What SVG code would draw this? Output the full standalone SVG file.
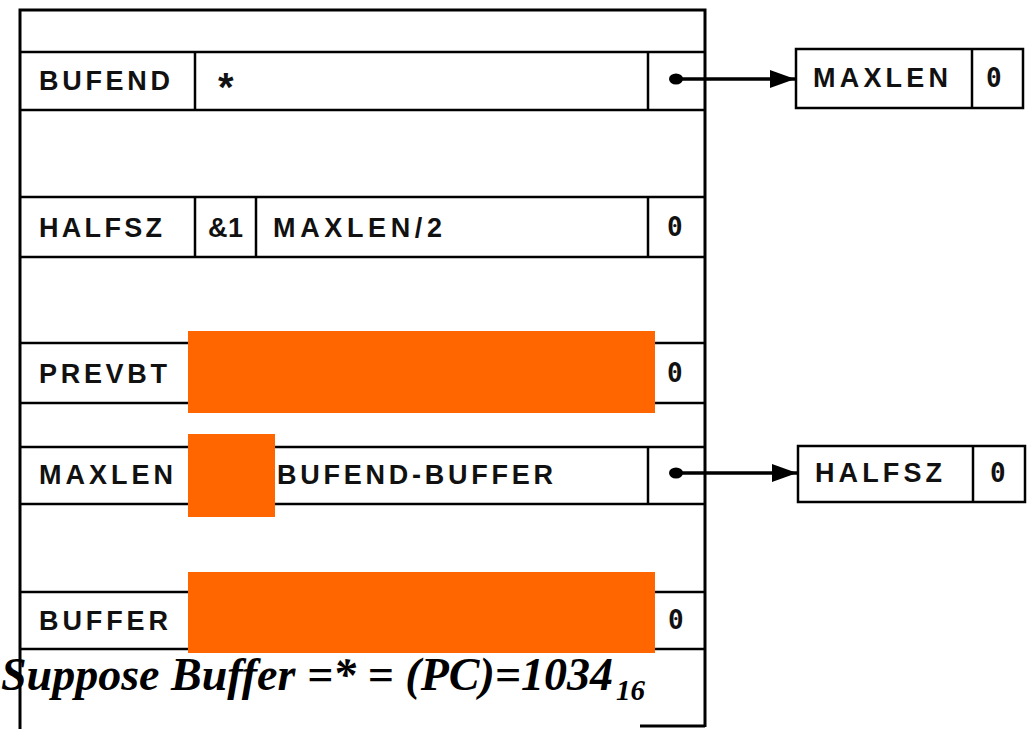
<svg xmlns="http://www.w3.org/2000/svg" width="1029" height="729" viewBox="0 0 1029 729">
<defs>
<style>
.ln{stroke:#000;stroke-width:2.5;fill:none}
.fr{stroke:#000;stroke-width:3;fill:none}
.lb{font-family:"Liberation Sans",Arial,sans-serif;font-weight:bold;font-size:27px;fill:#111}
.z{font-family:"DejaVu Sans Mono",monospace;font-weight:bold;font-size:26px;fill:#111}
.red{fill:#FF6600}
.cap{font-family:"Liberation Serif","Times New Roman",serif;font-weight:bold;font-style:italic;fill:#000}
</style>
<marker id="ah" viewBox="0 0 25 18" refX="25" refY="9" markerWidth="25" markerHeight="18" markerUnits="userSpaceOnUse" orient="auto">
<path d="M0,0 L25,9 L0,18 Z" fill="#000"/>
</marker>
</defs>
<rect width="1029" height="729" fill="#fff"/>
<g id="memory">
<path class="fr" d="M20,729 V10 H705 V727 M640,726 H705"/>
<path class="ln" d="M20,52 H705 M20,110 H705 M20,197 H705 M20,257 H705 M20,343 H705 M20,403 H705 M20,447 H705 M20,504 H705 M20,592 H705 M20,649 H705"/>
</g>
<g id="row-bufend">
<path class="ln" d="M195,52 V110 M648,52 V110"/>
<text class="lb" x="39" y="90" textLength="131" lengthAdjust="spacing">BUFEND</text>
<text class="lb" x="218" y="101" style="font-size:40px">*</text>
</g>
<g id="row-halfsz">
<path class="ln" d="M195,197 V257 M256,197 V257 M648,197 V257"/>
<text class="lb" x="39" y="237" textLength="123" lengthAdjust="spacing">HALFSZ</text>
<text class="lb" x="208" y="237" textLength="35" lengthAdjust="spacing">&amp;1</text>
<text class="lb" x="273" y="237" textLength="169" lengthAdjust="spacing">MAXLEN/2</text>
<text class="z" x="667" y="236">0</text>
</g>
<g id="row-prevbt">
<path class="ln" d="M648,343 V403"/>
<text class="lb" x="39" y="383" textLength="128" lengthAdjust="spacing">PREVBT</text>
<text class="z" x="667" y="382">0</text>
<rect class="red" x="188" y="331" width="467" height="82"/>
</g>
<g id="row-maxlen">
<path class="ln" d="M648,447 V504"/>
<text class="lb" x="39" y="484" textLength="134" lengthAdjust="spacing">MAXLEN</text>
<text class="lb" x="277" y="484" textLength="276" lengthAdjust="spacing">BUFEND-BUFFER</text>
<rect class="red" x="188" y="434" width="87" height="83"/>
</g>
<g id="row-buffer">
<path class="ln" d="M648,592 V649"/>
<text class="lb" x="39" y="630" textLength="129" lengthAdjust="spacing">BUFFER</text>
<text class="z" x="668" y="629">0</text>
<rect class="red" x="188" y="572" width="467" height="81"/>
</g>
<g id="box-maxlen">
<rect class="ln" x="796" y="49" width="227" height="59"/>
<path class="ln" d="M972,49 V108"/>
<text class="lb" x="813" y="87" textLength="135" lengthAdjust="spacing">MAXLEN</text>
<text class="z" x="986" y="87">0</text>
</g>
<g id="box-halfsz">
<rect class="ln" x="798" y="446" width="227" height="56"/>
<path class="ln" d="M973,446 V502"/>
<text class="lb" x="815" y="482" textLength="127" lengthAdjust="spacing">HALFSZ</text>
<text class="z" x="990" y="482">0</text>
</g>
<g id="connectors">
<ellipse cx="676" cy="79" rx="7" ry="5.5" fill="#000"/>
<line x1="676" y1="79" x2="795" y2="79" stroke="#000" stroke-width="3.5" marker-end="url(#ah)"/>
<ellipse cx="676" cy="473" rx="7" ry="5.5" fill="#000"/>
<line x1="676" y1="473" x2="797" y2="473" stroke="#000" stroke-width="3.5" marker-end="url(#ah)"/>
</g>
<g id="caption">
<text class="cap" x="1" y="690" style="font-size:46px" textLength="612" lengthAdjust="spacingAndGlyphs">Suppose Buffer =* = (PC)=1034</text>
<text class="cap" x="616" y="700" style="font-size:29px">16</text>
</g>
</svg>
